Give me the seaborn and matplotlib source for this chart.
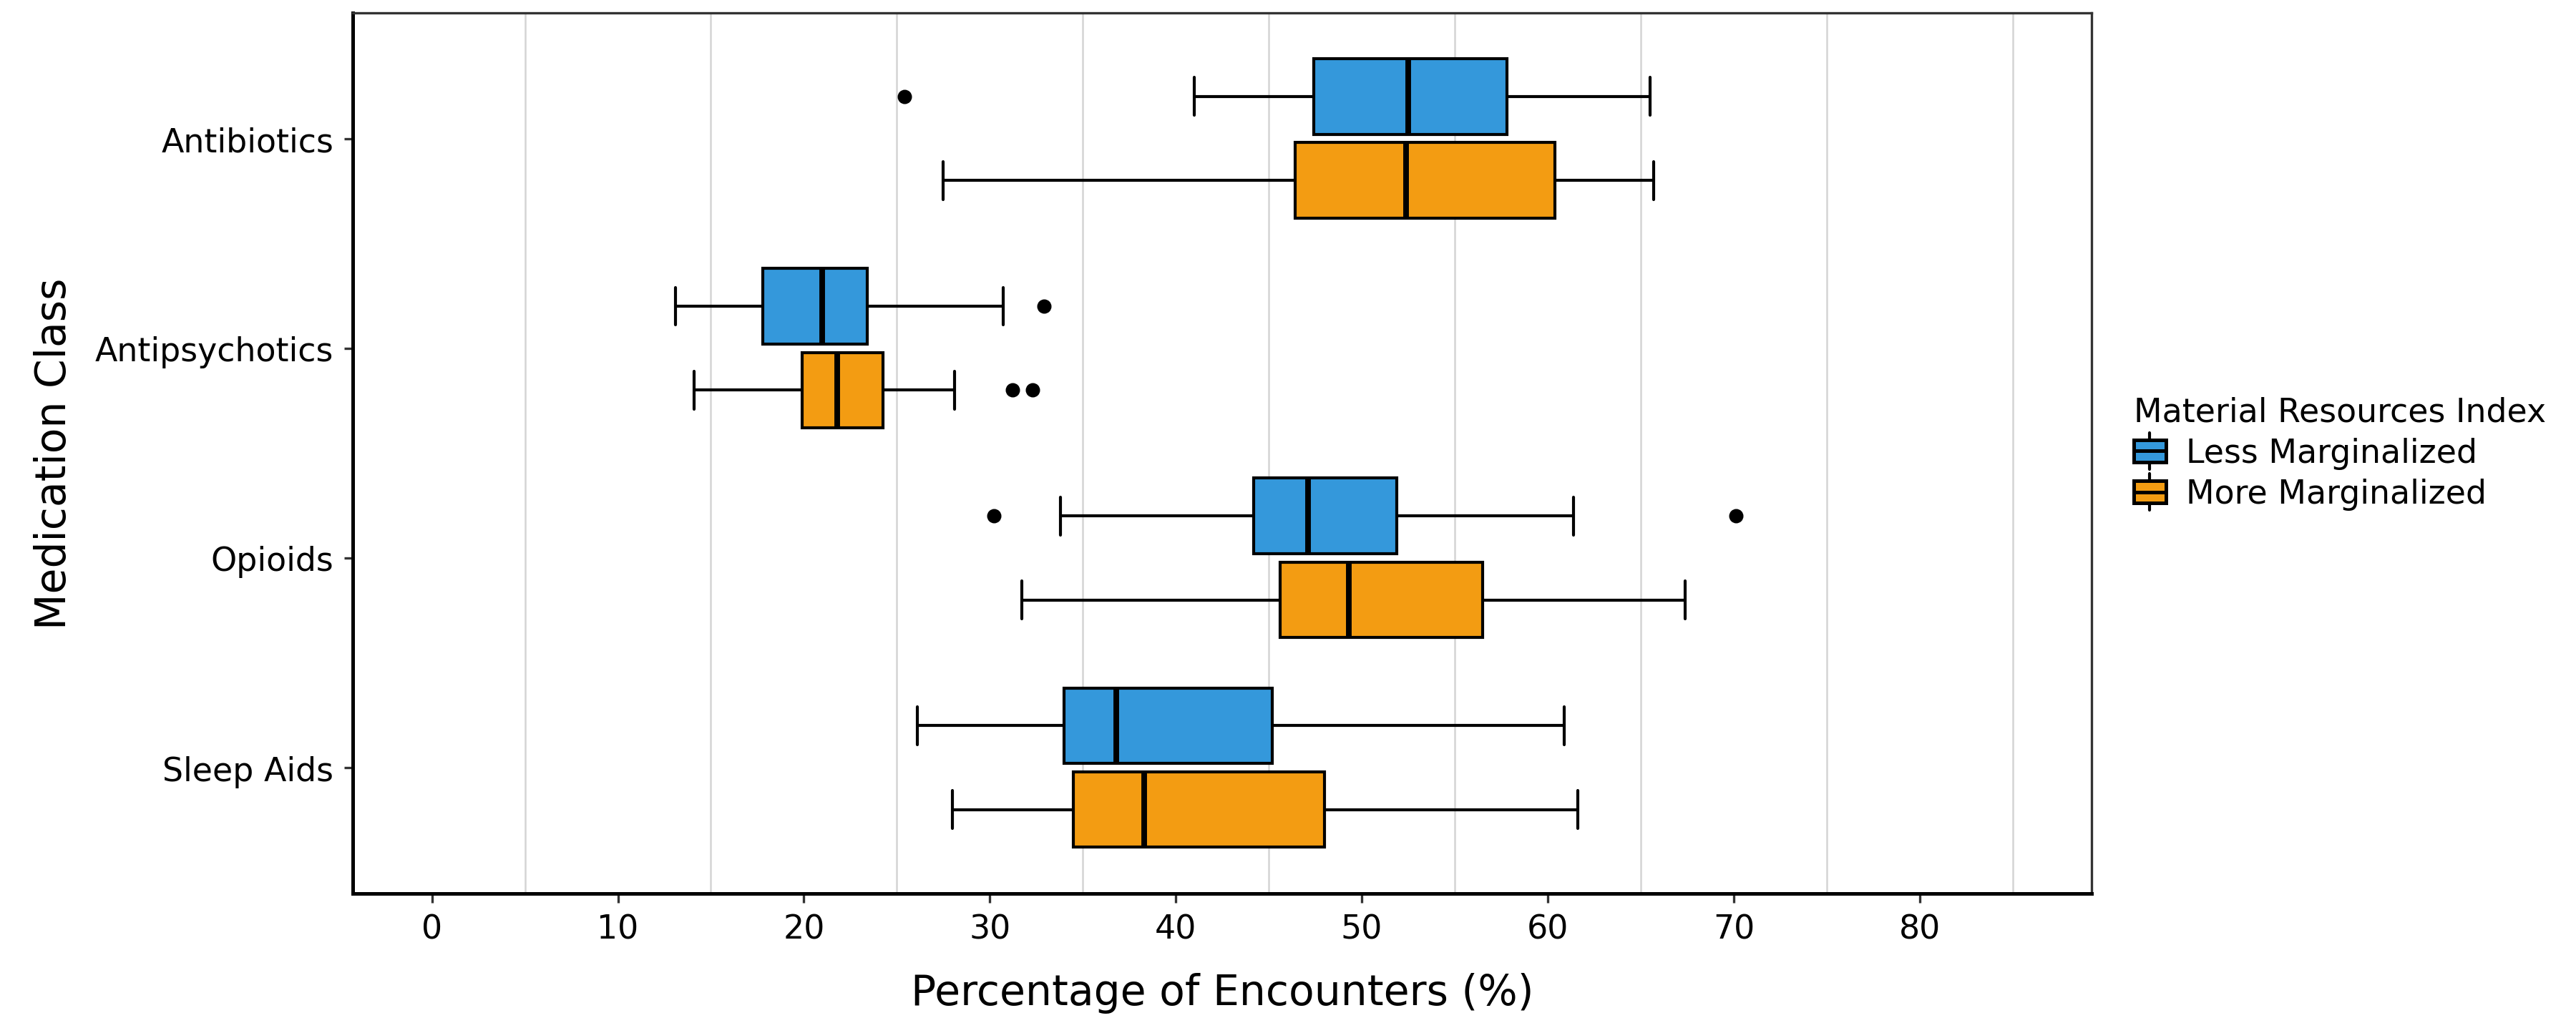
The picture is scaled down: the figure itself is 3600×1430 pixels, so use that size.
import numpy as np
import pandas as pd
import matplotlib
matplotlib.use("Agg")
import matplotlib.pyplot as plt
import seaborn as sns
from matplotlib.patches import Patch, Rectangle
from matplotlib.lines import Line2D
from matplotlib.legend_handler import HandlerBase

# ------------------------------------------------------------
# values (percent of encounters)
# ------------------------------------------------------------
classes = ["Antibiotics", "Antipsychotics", "Opioids", "Sleep Aids"]
groups = ["Less Marginalized", "More Marginalized"]
colors = ["#3498DB", "#F39C12"]

less_lo = [41.0, 13.1, 33.8, 26.1]
less_q1 = [47.4, 17.8, 44.2, 34.0]
less_med = [52.5, 21.0, 47.1, 36.8]
less_q3 = [57.8, 23.4, 51.9, 45.2]
less_hi = [65.5, 30.7, 61.4, 60.9]
less_out = [[25.4], [32.9], [30.2, 70.1], []]

more_lo = [27.5, 14.1, 31.7, 28.0]
more_q1 = [46.4, 19.9, 45.6, 34.5]
more_med = [52.4, 21.8, 49.3, 38.3]
more_q3 = [60.4, 24.25, 56.5, 48.0]
more_hi = [65.7, 28.1, 67.4, 61.6]
more_out = [[], [31.2, 32.3], [], []]


def make_obs(lo, q1, med, q3, hi, out):
    """13 Werte, deren Quartile genau q1/med/q3 ergeben (Index 3, 6, 9)."""
    low = sorted(v for v in out if v < lo)
    high = sorted(v for v in out if v > hi)
    lower = low + [lo]
    lower = lower + [q1] * (3 - len(lower))
    upper = [hi] + high
    upper = [q3] * (3 - len(upper)) + upper
    return lower + [q1, med, med, med, med, med, q3] + upper


rows = []
summaries = {
    "Less Marginalized": (less_lo, less_q1, less_med, less_q3, less_hi, less_out),
    "More Marginalized": (more_lo, more_q1, more_med, more_q3, more_hi, more_out),
}
for grp, (lo, q1, med, q3, hi, out) in summaries.items():
    for i, cls in enumerate(classes):
        for v in make_obs(lo[i], q1[i], med[i], q3[i], hi[i], out[i]):
            rows.append({"Medication Class": cls, "Group": grp, "pct": v})
df = pd.DataFrame(rows)


# ------------------------------------------------------------
# legend key that looks like a small vertical boxplot
# ------------------------------------------------------------
class BoxKey(HandlerBase):
    def create_artists(self, legend, orig_handle, xdescent, ydescent,
                       width, height, fontsize, trans):
        x0, y0 = -xdescent, -ydescent
        cx = x0 + width / 2
        box = Rectangle((x0, y0 + 0.12 * height), width, 0.76 * height,
                        facecolor=orig_handle.get_facecolor(), edgecolor="black",
                        linewidth=1.2, transform=trans)
        mid = Line2D([x0, x0 + width], [y0 + height / 2] * 2, color="black",
                     linewidth=1.2, transform=trans)
        top = Line2D([cx, cx], [y0 + 0.88 * height, y0 + 1.12 * height],
                     color="black", linewidth=1.0, transform=trans)
        bot = Line2D([cx, cx], [y0 - 0.12 * height, y0 + 0.12 * height],
                     color="black", linewidth=1.0, transform=trans)
        return [box, mid, top, bot]


# ------------------------------------------------------------
# plot
# ------------------------------------------------------------
sns.set_style("white")
plt.rcParams["font.family"] = ["DejaVu Sans"]
plt.rcParams["text.color"] = "black"
plt.rcParams["axes.labelcolor"] = "black"
plt.rcParams["xtick.color"] = "black"
plt.rcParams["ytick.color"] = "black"

fig = plt.figure(figsize=(12, 4.77), dpi=300)
ax = fig.add_axes([0.137, 0.1265, 0.675, 0.8605])

sns.boxplot(data=df, x="pct", y="Medication Class", hue="Group",
            order=classes, hue_order=groups, palette=dict(zip(groups, colors)),
            orient="y", width=0.8, gap=0.1, linewidth=1.0, linecolor="black",
            fliersize=3.8, saturation=1,
            flierprops=dict(marker="o", markerfacecolor="black",
                            markeredgecolor="black"),
            medianprops=dict(linewidth=1.9),
            legend=False, ax=ax)

ax.set_xlim(-4.25, 89.25)
ax.set_ylim(3.6, -0.6)
ax.set_xticks(np.arange(0, 81, 10))
ax.set_xticks(np.arange(5, 86, 10), minor=True)
ax.grid(axis="x", which="minor", color="#d4d4d4", linewidth=0.6)
ax.grid(axis="x", which="major", visible=False)
ax.grid(axis="y", visible=False)
ax.set_axisbelow(True)

ax.tick_params(axis="both", which="major", labelsize=11, length=3, width=0.8,
               color="#333333", labelcolor="black", bottom=True, left=True)
ax.tick_params(axis="x", which="minor", length=0)

for side in ["left", "bottom"]:
    ax.spines[side].set_color("black")
    ax.spines[side].set_linewidth(1.2)
for side in ["top", "right"]:
    ax.spines[side].set_color("#333333")
    ax.spines[side].set_linewidth(0.8)

ax.set_xlabel("Percentage of Encounters (%)", fontsize=14, labelpad=9)
ax.set_ylabel("Medication Class", fontsize=14, labelpad=7)

handles = [Patch(facecolor=c, edgecolor="black") for c in colors]
leg = ax.legend(handles, groups, title="Material Resources Index",
                loc="center left", bbox_to_anchor=(1.024, 0.5),
                frameon=False, fontsize=11, title_fontsize=11,
                handlelength=1.0, handleheight=1.0, handletextpad=0.6,
                labelspacing=0.25, borderpad=0, borderaxespad=0,
                handler_map={Patch: BoxKey()})
leg._legend_box.align = "left"
for t in leg.get_texts():
    t.set_color("black")
leg.get_title().set_color("black")

plt.savefig("out.png", dpi=300)
